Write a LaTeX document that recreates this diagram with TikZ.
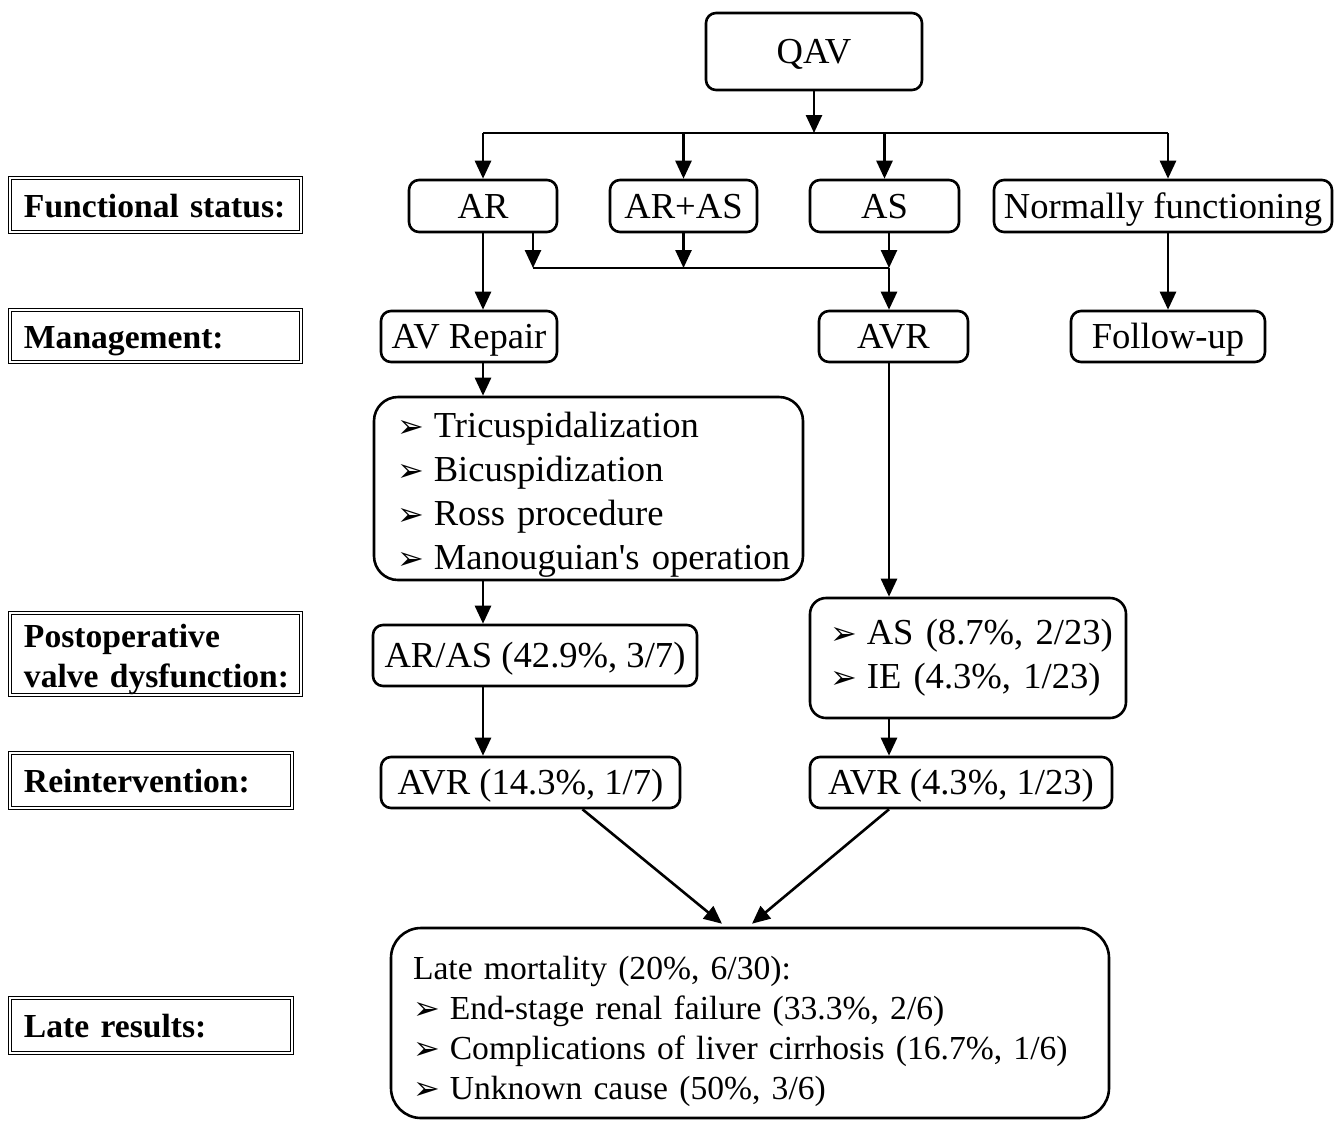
\documentclass[tikz,border=0pt]{standalone}
\usepackage{fontspec}
\setmainfont{Liberation Serif}
\newfontfamily\symfont{DejaVu Sans}
\usetikzlibrary{arrows.meta}
\newcommand{\itm}[1]{\mbox{\smash{\symfont\fontsize{16}{16}\selectfont ➢}\hspace{5pt}#1}}

\tikzset{
  box/.style={draw, line width=1.3pt, rounded corners=5pt, inner sep=0pt, font=\fontsize{18.3}{22}\selectfont},
  one/.style={text height=13pt, text depth=1pt},
  lab/.style={draw, double, double distance=1pt, line width=0.7pt, inner xsep=7pt, inner ysep=0pt, align=left, font=\fontsize{16.8}{20}\selectfont\bfseries},
  arr/.style={line width=1.3pt, -{Triangle[length=9pt,width=8pt]}},
  line/.style={line width=1.3pt}
}

\begin{document}
\begin{tikzpicture}[x=0.5pt,y=-0.5pt]
\useasboundingbox (0,0) rectangle (1334,1121);

% row labels
\node[lab, one, text width=131.5pt, minimum height=27pt] (fs) at (155.5,205) {\mbox{Functional status:}};
\node[lab, one, text width=131.5pt, minimum height=26pt] (mg) at (155.5,336) {\mbox{Management:}};
\node[lab, text width=131.5pt, minimum height=41pt] (pv) at (155.5,654) {\rule{0pt}{17pt}\mbox{Postoperative}\\\mbox{valve dysfunction:}};
\node[lab, one, text width=127pt, minimum height=27.5pt] (ri) at (151,780.5) {\mbox{Reintervention:}};
\node[lab, one, text width=127pt, minimum height=27.5pt] (lr) at (151,1025.5) {\mbox{Late results:}};

% boxes
\node[box, one, minimum width=108pt, minimum height=38.5pt] (qav) at (814,51.5) {QAV};
\node[box, one, minimum width=74pt, minimum height=26pt] (ar) at (483,206) {AR};
\node[box, one, minimum width=73.5pt, minimum height=26pt] (aras) at (683.5,206) {AR+AS};
\node[box, one, minimum width=74.5pt, minimum height=26pt] (as) at (884.5,206) {AS};
\node[box, one, minimum width=169pt, minimum height=26pt] (norm) at (1163,206) {Normally functioning};
\node[box, one, minimum width=88pt, minimum height=25.5pt] (repair) at (469,336.5) {AV Repair};
\node[box, one, minimum width=74.5pt, minimum height=25.5pt] (avr) at (893.5,336.5) {AVR};
\node[box, one, minimum width=97pt, minimum height=25.5pt] (follow) at (1168,336.5) {Follow-up};
\node[box, rounded corners=12pt, minimum width=214.5pt, minimum height=91.5pt, text width=191.5pt, inner xsep=11.5pt, align=left] (tech) at (588.5,488.5)
  {\rule{0pt}{19pt}\itm{Tricuspidalization}\\ \itm{Bicuspidization}\\ \itm{Ross procedure}\\ \itm{Manouguian\textquotesingle s operation}};
\node[box, one, minimum width=162pt, minimum height=30.5pt] (postr) at (535,655.5) {AR/AS (42.9\%, 3/7)};
\node[box, rounded corners=8pt, minimum width=158pt, minimum height=60pt, text width=138pt, inner xsep=10pt, align=left] (postv) at (968,658)
  {\itm{AS (8.7\%, 2/23)}\\ \itm{IE (4.3\%, 1/23)}};
\node[box, one, minimum width=149.5pt, minimum height=25.5pt] (reop1) at (530.5,782.5) {AVR (14.3\%, 1/7)};
\node[box, one, minimum width=151pt, minimum height=25.5pt] (reop2) at (961,782.5) {AVR (4.3\%, 1/23)};
\node[box, rounded corners=15pt, minimum width=359pt, minimum height=95pt, text width=337pt, inner xsep=11pt, align=left,
  font=\fontsize{16.8}{20}\selectfont] (late) at (750,1023)
  {\rule{0pt}{20pt}Late mortality (20\%, 6/30):\\ \itm{End-stage renal failure (33.3\%, 2/6)}\\ \itm{Complications of liver cirrhosis (16.7\%, 1/6)}\\ \itm{Unknown cause (50\%, 3/6)}};

% connectors
\coordinate (bus) at (814,133);
\coordinate (bus2) at (533,268);
\coordinate (rcol) at (889,268);
\draw[arr] (qav) -- (bus);
\draw[line] (bus -| ar.south) -- (bus -| follow);
\draw[arr] (bus -| ar.south) -- (ar);
\draw[arr] (bus -| aras) -- (aras);
\draw[arr] (bus -| as) -- (as);
\draw[arr] (bus -| follow) -- (norm.north -| follow);
\draw[arr] (norm.south -| follow) -- (follow);

\draw[arr] (ar.south) -- (ar.south |- repair.north);
\draw[arr] (ar.south -| bus2) -- (bus2);
\draw[line] (bus2) -- (rcol);
\draw[arr] (aras) -- (aras |- bus2);
\draw[arr] (as.south -| rcol) -- (rcol);
\draw[arr] (rcol) -- (avr.north -| rcol);

\draw[arr] (repair.south -| ar.south) -- (tech.north -| ar.south);
\draw[arr] (tech.south -| ar.south) -- (postr.north -| ar.south);
\draw[arr] (postr.south -| ar.south) -- (reop1.north -| ar.south);
\draw[arr] (avr.south -| rcol) -- (postv.north -| rcol);
\draw[arr] (postv.south -| rcol) -- (reop2.north -| rcol);

\draw[arr] ([xshift=26pt]reop1.south) -- ([xshift=-14pt,yshift=1.5pt]late.north);
\draw[arr] (reop2.south -| rcol) -- ([xshift=1pt,yshift=1.5pt]late.north);
\end{tikzpicture}
\end{document}
